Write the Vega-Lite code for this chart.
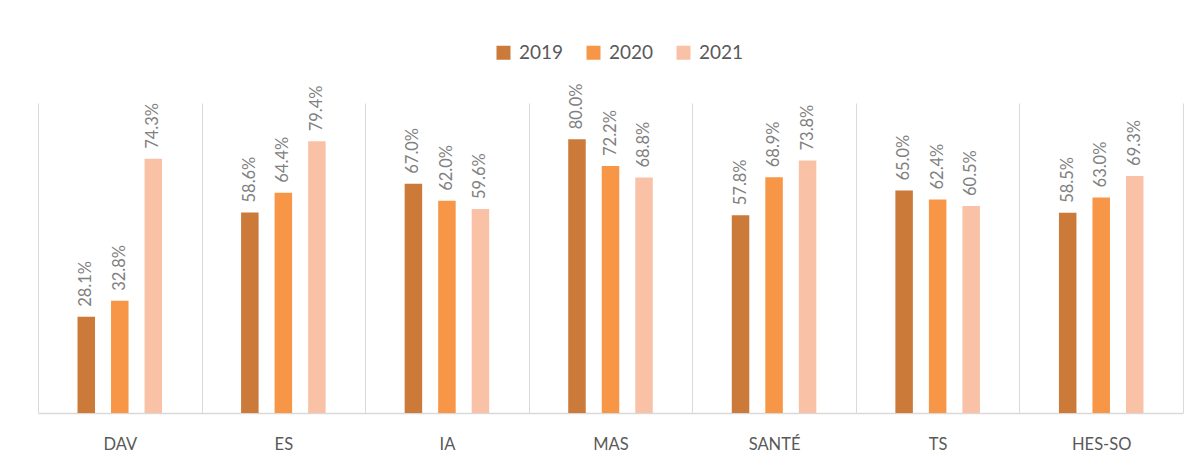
{
  "$schema": "https://vega.github.io/schema/vega-lite/v6.json",
  "width": 1145,
  "height": 310,
  "autosize": {"type": "none"},
  "padding": {"left": 38, "top": 103, "right": 15, "bottom": 50},
  "background": "white",
  "data": {
    "values": [
      {"filiere": "DAV", "annee": "2019", "taux": 0.281},
      {"filiere": "DAV", "annee": "2020", "taux": 0.328},
      {"filiere": "DAV", "annee": "2021", "taux": 0.743},
      {"filiere": "ES", "annee": "2019", "taux": 0.586},
      {"filiere": "ES", "annee": "2020", "taux": 0.644},
      {"filiere": "ES", "annee": "2021", "taux": 0.794},
      {"filiere": "IA", "annee": "2019", "taux": 0.670},
      {"filiere": "IA", "annee": "2020", "taux": 0.620},
      {"filiere": "IA", "annee": "2021", "taux": 0.596},
      {"filiere": "MAS", "annee": "2019", "taux": 0.800},
      {"filiere": "MAS", "annee": "2020", "taux": 0.722},
      {"filiere": "MAS", "annee": "2021", "taux": 0.688},
      {"filiere": "SANTÉ", "annee": "2019", "taux": 0.578},
      {"filiere": "SANTÉ", "annee": "2020", "taux": 0.689},
      {"filiere": "SANTÉ", "annee": "2021", "taux": 0.738},
      {"filiere": "TS", "annee": "2019", "taux": 0.650},
      {"filiere": "TS", "annee": "2020", "taux": 0.624},
      {"filiere": "TS", "annee": "2021", "taux": 0.605},
      {"filiere": "HES-SO", "annee": "2019", "taux": 0.585},
      {"filiere": "HES-SO", "annee": "2020", "taux": 0.630},
      {"filiere": "HES-SO", "annee": "2021", "taux": 0.693}
    ]
  },
  "encoding": {
    "x": {
      "field": "filiere",
      "type": "nominal",
      "sort": null,
      "scale": {"paddingInner": 0, "paddingOuter": 0},
      "axis": {
        "title": null,
        "labelAngle": 0,
        "ticks": false,
        "grid": true,
        "tickBand": "extent",
        "gridColor": "#d9d9d9",
        "gridWidth": 1,
        "domainColor": "#d9d9d9",
        "domainWidth": 1.5,
        "labelFont": "Lato",
        "labelFontSize": 16.5,
        "labelColor": "#595959",
        "labelPadding": 23
      }
    },
    "xOffset": {
      "field": "annee",
      "type": "nominal",
      "scale": {"paddingInner": 0.12, "paddingOuter": 1}
    },
    "y": {
      "field": "taux",
      "type": "quantitative",
      "scale": {"domain": [0, 0.906], "nice": false},
      "axis": null
    },
    "color": {
      "field": "annee",
      "type": "nominal",
      "scale": {"domain": ["2019", "2020", "2021"], "range": ["#CC7A39", "#F79646", "#F9C2A6"]},
      "legend": {
        "title": null,
        "orient": "none",
        "direction": "horizontal",
        "legendX": 456,
        "legendY": -60,
        "symbolType": "square",
        "symbolSize": 196,
        "symbolStrokeWidth": 0,
        "labelFont": "Lato",
        "labelFontSize": 19,
        "labelColor": "#595959",
        "labelOffset": 6,
        "columnPadding": 20
      }
    }
  },
  "layer": [
    {"mark": {"type": "bar", "width": 17.5}},
    {
      "mark": {
        "type": "text",
        "angle": 270,
        "align": "left",
        "baseline": "middle",
        "dx": 10,
        "font": "Lato",
        "fontSize": 16.5,
        "color": "#808080"
      },
      "encoding": {
        "text": {"field": "taux", "type": "quantitative", "format": ".1%"},
        "color": {"value": "#808080"}
      }
    }
  ],
  "config": {
    "view": {"stroke": null}
  }
}
